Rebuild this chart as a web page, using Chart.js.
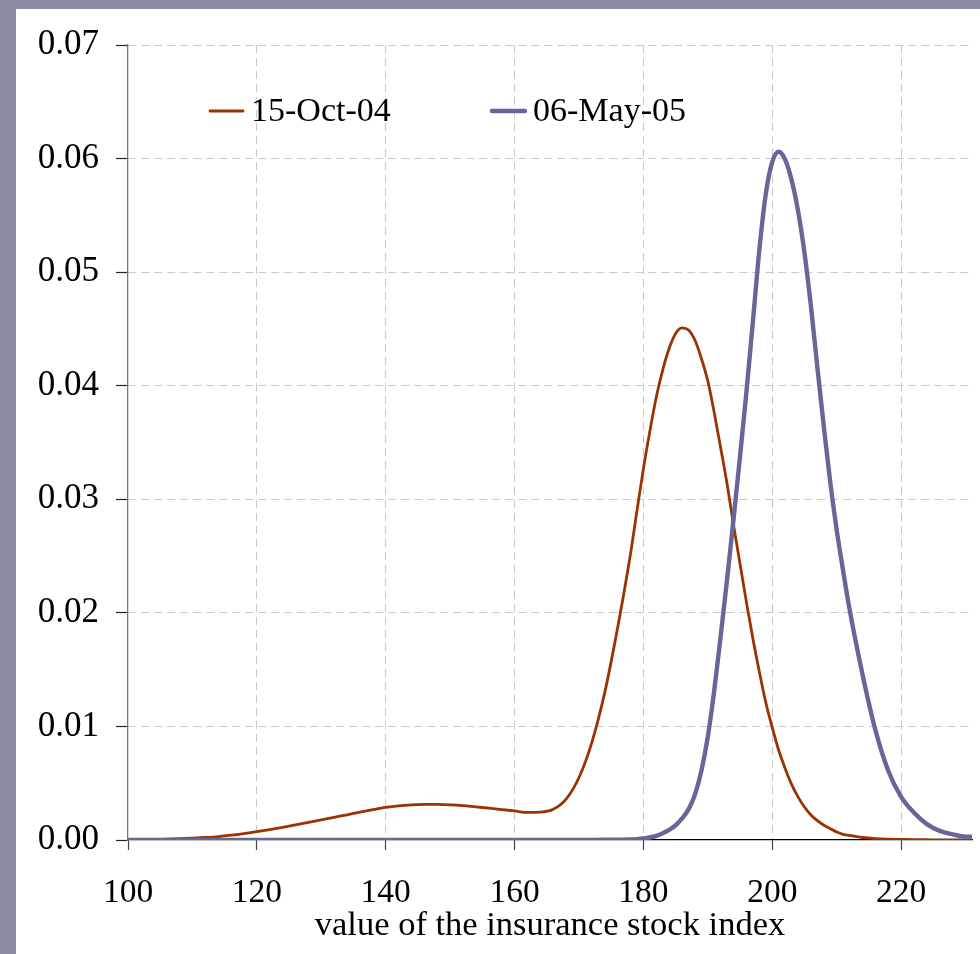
<!DOCTYPE html>
<html>
<head>
<meta charset="utf-8">
<script src="https://cdn.jsdelivr.net/npm/chart.js@4/dist/chart.umd.min.js"></script>
<style>
  html, body { margin:0; padding:0; background:#8b8ba6; }
  #wrap { position:absolute; left:16px; top:9px; width:964px; height:945px; background:#fff; }
</style>
</head>
<body>
<div id="wrap"><canvas id="chart" width="964" height="945"></canvas></div>
<script>
/* index values (x) – denser around the peaks */
const xValues = [
  100,102,104,106,108,110,112,114,116,118,
  120,122,124,126,128,130,132,134,136,138,
  140,142,144,146,148,150,152,154,156,158,
  160,162,164,166,168,170,172,174,176,178,
  179,180,181,182,183,184,185,186,187,188,
  189,190,191,192,193,194,195,196,197,198,
  199,200,201,202,203,204,205,206,207,208,
  209,210,211,212,
  214,216,218,220,222,224,226,228,230,231
];

/* density, 15-Oct-04 */
const oct04 = [
  0.00001,0.00002,0.00004,0.00007,0.00011,0.00016,0.00022,0.0003,0.00042,0.00057,
  0.00074,0.00092,0.00112,0.00133,0.00155,0.00178,0.002,0.00222,0.00245,0.00267,
  0.00287,0.00301,0.0031,0.00314,0.00313,0.00309,0.00302,0.00292,0.0028,0.00268,
  0.00256,0.00243,0.00245,0.0027,0.0036,0.0055,0.0086,0.013,0.0187,0.0252,
  0.029,0.0327,0.036,0.039,0.0414,0.0433,0.0446,0.0451,0.0449,0.044,
  0.0424,0.0404,0.0376,0.0345,0.0313,0.0277,0.0243,0.0209,0.0177,0.0148,
  0.0121,0.0099,0.0079,0.0063,0.0049,0.0038,0.0029,0.0022,0.0017,0.0013,
  0.001,0.0007,0.0005,0.0004,
  0.00022,0.00012,0.00007,0.00005,0.00003,0.00002,0.00001,0.00001,0.00001,0.00001
];

/* density, 06-May-05 */
const may05 = [
  0,0,0,0,0,0,0,0,0,0,
  0,0,0,0,0,0,0,0,0,0,
  0,0,0,0,0,0,0,0,0,0,
  0,0,0,0,0,0,0.00001,0.00002,0.00003,0.00005,
  0.00008,0.00013,0.00022,0.00037,0.0006,0.0009,0.0013,0.0019,0.0027,0.004,
  0.0061,0.0091,0.0132,0.018,0.023,0.0283,0.0338,0.0395,0.0457,0.052,
  0.0569,0.0597,0.0606,0.0599,0.0581,0.0554,0.0517,0.047,0.0416,0.0364,
  0.0315,0.0273,0.0237,0.0203,
  0.0146,0.0097,0.0061,0.0038,0.0024,0.0014,0.0008,0.0005,0.0003,0.0003
];

const seriesLabels = ['15-Oct-04', '06-May-05'];
const xTicks = [100, 120, 140, 160, 180, 200, 220];
const yTicks = [0, 0.01, 0.02, 0.03, 0.04, 0.05, 0.06, 0.07];

const FONT = '"Liberation Serif", "Times New Roman", serif';
const pts = ys => xValues.map((x, i) => ({ x, y: ys[i] }));

/* legend drawn inside the plot, like the original */
const insideLegend = {
  id: 'insideLegend',
  afterDraw (chart) {
    const { ctx, chartArea: a } = chart;
    const slots = [{ x: a.left + 82, y: a.top + 66 }, { x: a.left + 364, y: a.top + 66 }];
    ctx.save();
    ctx.font = '34px ' + FONT;
    ctx.textBaseline = 'middle';
    ctx.fillStyle = '#000';
    chart.data.datasets.forEach((ds, i) => {
      const s = slots[i];
      ctx.strokeStyle = ds.borderColor;
      ctx.lineWidth = ds.borderWidth;
      ctx.lineCap = 'round';
      ctx.beginPath();
      ctx.moveTo(s.x, s.y);
      ctx.lineTo(s.x + 33, s.y);
      ctx.stroke();
      ctx.fillText(ds.label, s.x + 41, s.y + 1);
    });
    ctx.restore();
  }
};

new Chart(document.getElementById('chart'), {
  type: 'line',
  data: {
    datasets: [
      { label: seriesLabels[0], data: pts(oct04), borderColor: '#993300', borderWidth: 2.8,
        pointRadius: 0, cubicInterpolationMode: 'monotone', order: 1 },
      { label: seriesLabels[1], data: pts(may05), borderColor: '#666699', borderWidth: 4.4,
        pointRadius: 0, cubicInterpolationMode: 'monotone', order: 0 }
    ]
  },
  options: {
    responsive: false,
    animation: false,
    layout: { padding: { top: 36, right: 8, left: 0, bottom: 0 } },
    plugins: { legend: { display: false }, tooltip: { enabled: false } },
    scales: {
      x: {
        type: 'linear', min: 100, max: 231,
        afterBuildTicks: s => { s.ticks = xTicks.map(v => ({ value: v })); },
        afterFit: s => { s.height = 114; },
        ticks: { includeBounds: false, padding: 23, color: '#000', font: { family: FONT, size: 33.5 } },
        grid: {
          color: c => c.tick && c.tick.value === 100 ? 'rgba(0,0,0,0)' : '#c8c8c8',
          lineWidth: 1,
          tickLength: 10, tickColor: '#444', tickBorderDash: [], tickWidth: 1.2
        },
        border: { display: true, color: '#000', width: 1.3, dash: [8, 5] },
        title: { display: true, text: 'value of the insurance stock index', color: '#000',
                 font: { family: FONT, size: 34.5 }, padding: { top: 0, bottom: 7 } }
      },
      y: {
        min: 0, max: 0.07,
        afterBuildTicks: s => { s.ticks = yTicks.map(v => ({ value: v })); },
        afterFit: s => { s.width = 112; },
        ticks: { padding: 17, color: '#000', font: { family: FONT, size: 35, lineHeight: 1 },
                 callback: v => v.toFixed(2) },
        grid: {
          color: c => c.tick && c.tick.value === 0 ? 'rgba(0,0,0,0)' : '#c8c8c8',
          lineWidth: 1,
          tickLength: 12, tickColor: '#222', tickBorderDash: [], tickWidth: 1.2
        },
        border: { display: true, color: '#777', width: 1.3, dash: [8, 5] }
      }
    }
  },
  plugins: [insideLegend]
});
</script>
</body>
</html>
